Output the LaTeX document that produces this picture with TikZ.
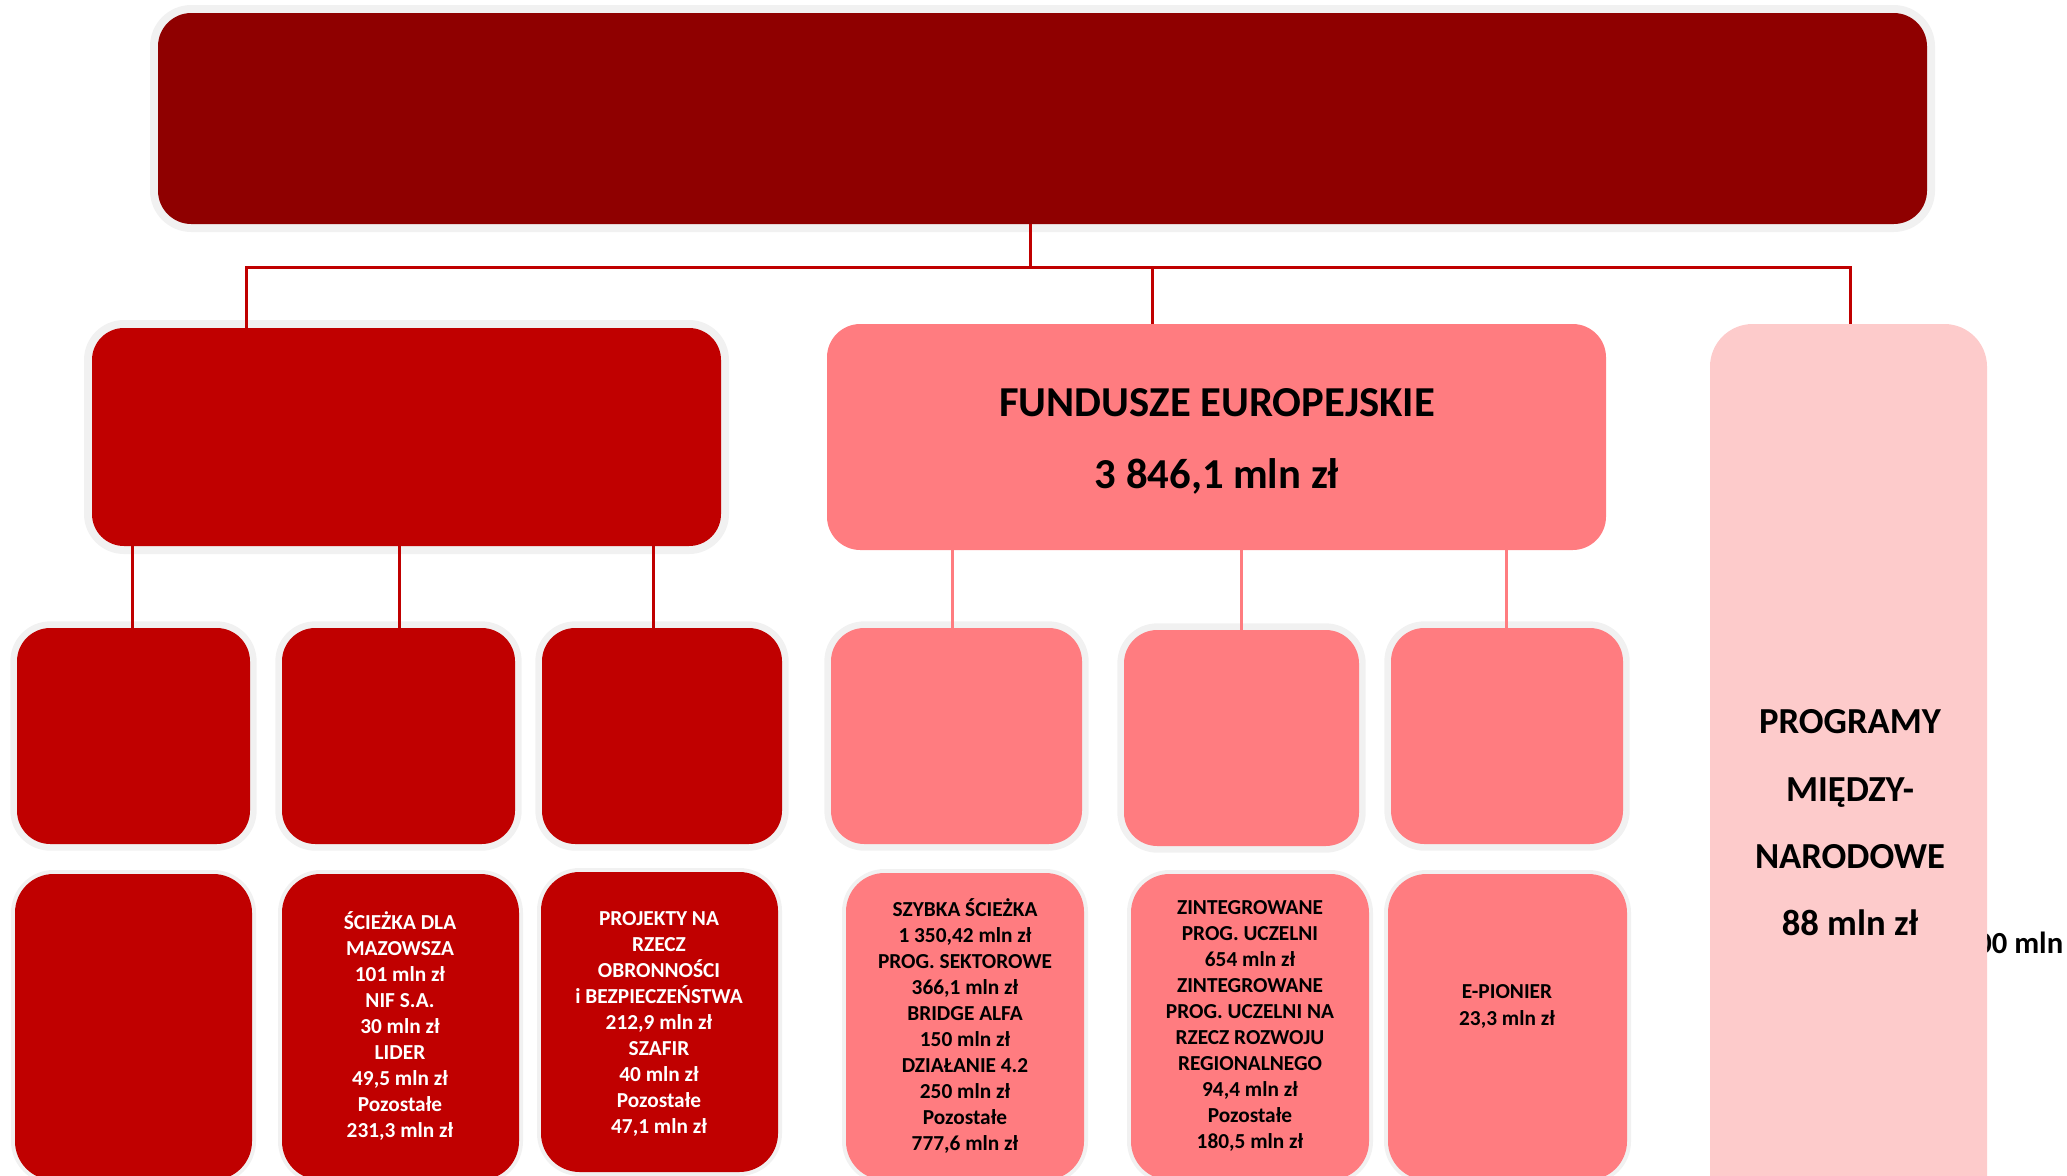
\documentclass[tikz,border=0pt]{standalone}
\usepackage{fontspec}
\setmainfont{Carlito}
\definecolor{topred}{RGB}{143,0,0}
\definecolor{midred}{RGB}{192,0,0}
\definecolor{pinkbox}{RGB}{255,124,128}
\definecolor{palepink}{RGB}{253,203,203}
\definecolor{ringgray}{RGB}{241,241,241}
\newcommand\bx[6]{\node[#6, minimum width={(#4-#2)*0.75pt}, minimum height={(#5-#3)*0.75pt}] (#1) at ({(#2+#4)/2},{(#3+#5)/2}) {};}
\tikzset{
  basebox/.style={rectangle, inner sep=0pt, outer sep=0pt},
  ringed/.style={preaction={draw=ringgray, line width=#1}},
  topbox/.style={basebox, fill=topred, rounded corners=25pt, ringed=12pt},
  lbox/.style={basebox, fill=midred, rounded corners=24pt, ringed=12pt},
  febox/.style={basebox, fill=pinkbox, rounded corners=25pt},
  pmbox/.style={basebox, fill=palepink, rounded corners=32pt},
  redsq/.style={basebox, fill=midred, rounded corners=25pt, ringed=10pt},
  pinksq/.style={basebox, fill=pinkbox, rounded corners=25pt, ringed=10pt},
  redlow/.style={basebox, fill=midred, rounded corners=29pt, ringed=6pt},
  pinklow/.style={basebox, fill=pinkbox, rounded corners=29pt, ringed=6pt},
  redline/.style={draw=midred, line width=2.25pt},
  pinkline/.style={draw=pinkbox, line width=2.25pt},
  wtxt/.style={text=white, align=center, inner sep=0pt, font=\fontsize{16pt}{19.5pt}\selectfont\bfseries},
  btxt/.style={text=black, align=center, inner sep=0pt, font=\fontsize{16pt}{19.5pt}\selectfont\bfseries},
}
\begin{document}
\begin{tikzpicture}[x=0.75pt, y=-0.75pt]
\useasboundingbox (0,0) rectangle (2067,1175);
% partly hidden text behind the right box
\node[anchor=base west, inner sep=0pt, font=\fontsize{23pt}{28pt}\selectfont\bfseries] (hidden) at (1976,953) {00 mln};
% boxes
\bx{T}{158}{13}{1927}{224}{topbox}
\bx{L}{92}{328}{721}{546}{lbox}
\bx{FE}{827}{324}{1606}{550}{febox}
\bx{PM}{1710}{324}{1987}{1240}{pmbox}
\bx{a1}{17}{628}{250}{844}{redsq}
\bx{a2}{282}{628}{515}{844}{redsq}
\bx{a3}{542}{628}{782}{844}{redsq}
\bx{p1}{831}{628}{1082}{844}{pinksq}
\bx{p2}{1124}{630}{1359}{846}{pinksq}
\bx{p3}{1391}{628}{1623}{844}{pinksq}
\bx{b1}{15}{874}{252}{1180}{redlow}
\bx{b2}{282}{874}{519}{1180}{redlow}
\bx{b3}{541}{872}{778}{1172}{redlow}
\bx{b4}{846}{873}{1084}{1180}{pinklow}
\bx{b5}{1131}{874}{1369}{1180}{pinklow}
\bx{b6}{1388}{874}{1627}{1180}{pinklow}
% texts
\node[inner sep=0pt, align=center, font=\fontsize{32pt}{54pt}\selectfont\bfseries] (fetxt) at (1217,441) {FUNDUSZE EUROPEJSKIE\\3 846,1 mln zł};
\node[inner sep=0pt, align=center, font=\fontsize{27.5pt}{50.5pt}\selectfont\bfseries] (pmtxt) at (1850,823) {PROGRAMY\\MIĘDZY-\\NARODOWE\\88 mln zł};
\node[wtxt] (t2) at (400,1026) {ŚCIEŻKA DLA\\MAZOWSZA\\101 mln zł\\NIF S.A.\\30 mln zł\\LIDER\\49,5 mln zł\\Pozostałe\\231,3 mln zł};
\node[wtxt] (t3) at (659,1024) {PROJEKTY NA\\RZECZ\\OBRONNOŚCI\\i BEZPIECZEŃSTWA\\212,9 mln zł\\SZAFIR\\40 mln zł\\Pozostałe\\47,1 mln zł};
\node[btxt] (t4) at (965,1026) {SZYBKA ŚCIEŻKA\\1 350,42 mln zł\\PROG. SEKTOROWE\\366,1 mln zł\\BRIDGE ALFA\\150 mln zł\\DZIAŁANIE 4.2\\250 mln zł\\Pozostałe\\777,6 mln zł};
\node[btxt] (t5) at (1250,1026) {ZINTEGROWANE\\PROG. UCZELNI\\654 mln zł\\ZINTEGROWANE\\PROG. UCZELNI NA\\RZECZ ROZWOJU\\REGIONALNEGO\\94,4 mln zł\\Pozostałe\\180,5 mln zł};
\node[btxt, font=\fontsize{16pt}{20.25pt}\selectfont\bfseries] (t6) at (1507,1006) {E-PIONIER\\23,3 mln zł};
% connector coordinates
\coordinate (j) at (1030,267);
\coordinate (busL) at (246,267);
\coordinate (busR) at (1850,267);
\coordinate (fx) at (1152,267);
\coordinate (c1) at (132,0);
\coordinate (c2) at (399,0);
\coordinate (c3) at (653,0);
\coordinate (d1) at (952,0);
\coordinate (d2) at (1241,0);
\coordinate (d3) at (1506,0);
% connectors
\draw[redline] (T.south -| j) -- (j);
\draw[redline] (L.north -| busL) -- (busL) -- (busR) -- (PM.north -| busR);
\draw[redline] (FE.north -| fx) -- (fx);
\draw[redline] (L.south -| c1) -- (a1.north -| c1);
\draw[redline] (L.south -| c2) -- (a2.north -| c2);
\draw[redline] (L.south -| c3) -- (a3.north -| c3);
\draw[pinkline] (FE.south -| d1) -- (p1.north -| d1);
\draw[pinkline] (FE.south -| d2) -- (p2.north -| d2);
\draw[pinkline] (FE.south -| d3) -- (p3.north -| d3);
\end{tikzpicture}
\end{document}
